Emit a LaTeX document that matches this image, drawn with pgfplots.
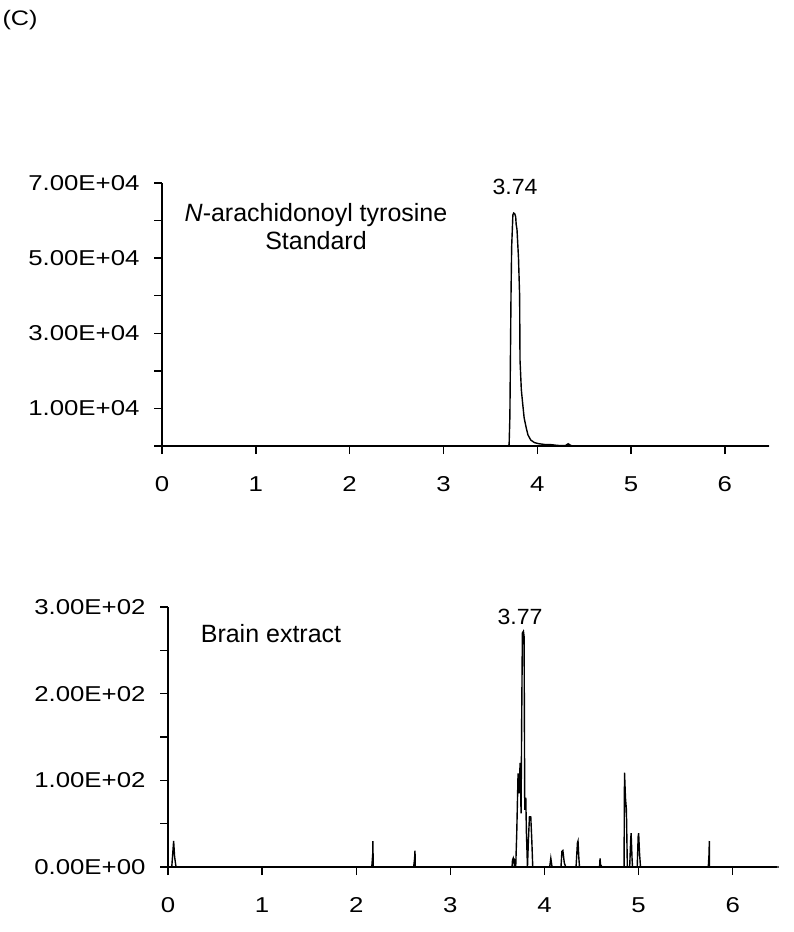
\documentclass[border=0pt]{standalone}
\usepackage{fontspec}
\setmainfont{Liberation Sans}
\newfontfamily\peakfont[FakeStretch=1.05]{Liberation Sans}
\usepackage{graphicx}
\usepackage{pgfplots}
\pgfplotsset{compat=1.18}

% tick labels of the original are drawn somewhat wide
\newcommand\wlab[1]{\scalebox{1.2}[1]{#1}}

\pgfplotsset{
  chrom/.style={
    scale only axis,
    anchor=south west,
    axis lines=left,
    axis line style={-, line width=1.6pt},
    enlargelimits=false,
    xmin=0, xmax=6.47,
    xtick={0,1,2,3,4,5,6},
    xticklabels={\wlab{0},\wlab{1},\wlab{2},\wlab{3},\wlab{4},\wlab{5},\wlab{6}},
    tick align=outside,
    major tick length=8pt,
    tick style={line width=1.4pt, black},
    tick label style={font=\fontsize{21.5}{25}\selectfont},
    yticklabel style={xshift=-11pt},
    xticklabel style={yshift=-19pt},
    scaled y ticks=false,
    clip=false,
  },
  trace/.style={black, line width=1.4pt, no markers},
}

\begin{document}
\begin{tikzpicture}
\path[use as bounding box] (0,0) rectangle (794pt,-932pt);

% standard
\begin{axis}[chrom, at={(162pt,-446pt)}, width=607pt, height=263pt,
    ymin=0, ymax=70000,
    ytick={0,10000,20000,30000,40000,50000,60000,70000},
    yticklabels={{},\wlab{1.00E+04},{},\wlab{3.00E+04},{},\wlab{5.00E+04},{},\wlab{7.00E+04}}]
\addplot[trace] coordinates {
  (0,0) (3.69,0) (3.70,400) (3.708,7800) (3.72,40000) (3.727,53000)
  (3.74,61500) (3.748,62000) (3.76,61800) (3.77,61000) (3.775,59000)
  (3.784,57600) (3.80,50000) (3.812,40000) (3.816,22900) (3.83,15000)
  (3.844,11400) (3.86,7500) (3.88,5100) (3.90,3000) (3.93,1600)
  (3.97,900) (4.02,600) (4.08,400) (4.15,350) (4.20,200) (4.25,100)
  (4.30,100) (4.33,600) (4.36,100) (4.40,0) (6.47,0)
};
\end{axis}

% brain extract
\begin{axis}[chrom, at={(168pt,-867pt)}, width=609pt, height=260pt,
    ymin=0, ymax=300,
    ytick={0,50,100,150,200,250,300},
    yticklabels={\wlab{0.00E+00},{},\wlab{1.00E+02},{},\wlab{2.00E+02},{},\wlab{3.00E+02}}]
\addplot[trace] coordinates {
  (0,0) (0.04,0) (0.05,15) (0.06,30) (0.07,12) (0.085,0)
  (2.165,0) (2.175,15) (2.177,30) (2.18,0)
  (2.61,0) (2.62,10) (2.624,19) (2.627,0)
  (3.655,0) (3.66,8) (3.667,10) (3.672,4) (3.677,10) (3.68,0)
  (3.694,0) (3.705,39) (3.719,108) (3.729,85) (3.741,120) (3.751,62)
  (3.758,177) (3.765,270) (3.776,272) (3.783,266) (3.790,66)
  (3.801,80) (3.808,39) (3.819,0) (3.829,31) (3.840,58) (3.854,58)
  (3.865,31) (3.875,0)
  (4.055,0) (4.067,10) (4.08,0)
  (4.175,0) (4.185,18) (4.195,19) (4.21,5) (4.225,0)
  (4.335,0) (4.35,28) (4.356,30) (4.365,10) (4.372,0)
  (4.585,0) (4.59,10) (4.595,3) (4.61,0)
  (4.845,0) (4.85,109) (4.86,80) (4.87,66) (4.88,0)
  (4.905,0) (4.915,30) (4.92,39) (4.93,10) (4.935,0)
  (4.985,0) (4.995,35) (5.00,39) (5.01,15) (5.02,0)
  (5.74,0) (5.748,15) (5.751,30) (5.753,0) (6.49,0)
};
\end{axis}

\node[font=\fontsize{25}{28}\selectfont, align=center] at (316pt,-227pt)
  {\textit{N}-arachidonoyl tyrosine\\Standard};
\node[font=\peakfont\fontsize{22}{26}\selectfont] at (515pt,-187pt) {3.74};
\node[font=\fontsize{25}{28}\selectfont] at (271pt,-634pt) {Brain extract};
\node[font=\peakfont\fontsize{22}{26}\selectfont] at (520pt,-617pt) {3.77};
\node[font=\fontsize{21}{24}\selectfont] at (20pt,-20pt) {\wlab{(C)}};
\end{tikzpicture}
\end{document}
